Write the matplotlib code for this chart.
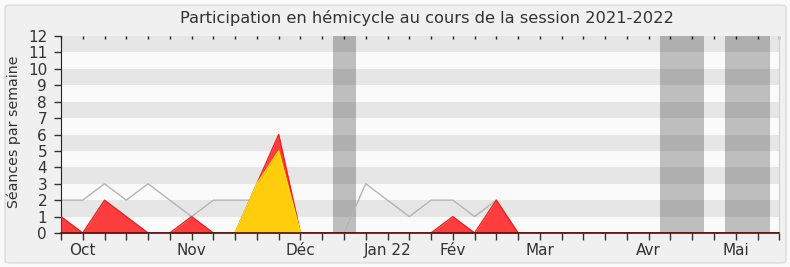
import matplotlib
matplotlib.use("Agg")
import matplotlib.pyplot as plt
from matplotlib.patches import FancyBboxPatch
import numpy as np

plt.rcParams["font.family"] = ["DejaVu Sans"]

# ---- data (weekly, week 0 .. 33) ----
weeks = list(range(34))
hemicycle_total = [2, 2, 3, 2, 3, 2, 1, 2, 2, 2, 1, 0, 0, 0, 3, 2, 1, 2, 2, 1, 2, 0,
                   0, 0, 0, 0, 0, 0, 0, 0, 0, 0, 0, 0]
presence = [1, 0, 2, 1, 0, 0, 1, 0, 0, 3, 6, 0, 0, 0, 0, 0, 0, 0, 1, 0, 2, 0,
            0, 0, 0, 0, 0, 0, 0, 0, 0, 0, 0, 0]
interventions = [0, 0, 0, 0, 0, 0, 0, 0, 0, 3, 5, 0, 0, 0, 0, 0, 0, 0, 0, 0, 0, 0,
                 0, 0, 0, 0, 0, 0, 0, 0, 0, 0, 0, 0]
vacation_start = [12.5, 27.5, 30.5]
vacation_end = [13.55, 29.55, 32.55]
month_labels = ["Oct", "Nov", "Déc", "Jan 22", "Fév", "Mar", "Avr", "Mai"]
month_weeks = [1, 6, 11, 15, 18, 22, 27, 31]
title = "Participation en hémicycle au cours de la session 2021-2022"
ylabel = "Séances par semaine"

W, H, DPI = 790, 267, 100
fig = plt.figure(figsize=(W / DPI, H / DPI), dpi=DPI)
fig.patch.set_facecolor("#fafafa")
box = FancyBboxPatch((5 / W, 4 / H), 781 / W, 258 / H,
                     boxstyle="round,pad=0,rounding_size=0.008",
                     transform=fig.transFigure, facecolor="#f0f0f0",
                     edgecolor="#dcdcdc", linewidth=1, zorder=-10)
fig.patches.append(box)

ax = fig.add_axes([61 / W, 1 - 233 / H, (779.3 - 61) / W, (233 - 36) / H])
ax.set_facecolor("#fafafa")
ax.set_xlim(0, 33)
ax.set_ylim(0, 12)

# horizontal stripes
for k in range(1, 12, 2):
    ax.axhspan(k, k + 1, color="#e6e6e6", zorder=0, lw=0)

# vacation bands
for s, e in zip(vacation_start, vacation_end):
    ax.axvspan(s, e, color="black", alpha=0.24, lw=0, zorder=1)

ax.plot(weeks, hemicycle_total, color="#b4b4b4", lw=1, zorder=2)
ax.fill_between(weeks, presence, 0, color="#ff3434", alpha=0.95, lw=0, zorder=3)
ax.plot(weeks, presence, color="#ff1a1a", lw=1, zorder=3)
ax.fill_between(weeks, interventions, 0, color="#ffd60a", alpha=0.95, lw=0, zorder=4)
ax.plot(weeks[8:12], interventions[8:12], color="#ffe000", lw=1, zorder=4)

# spines
ax.spines["top"].set_visible(False)
ax.spines["right"].set_color("#d0d0d0")
ax.spines["left"].set_color("#222222")
ax.spines["bottom"].set_color("#4a1010")
ax.spines["bottom"].set_zorder(10)
ax.spines["bottom"].set_linewidth(1.2)

# ticks
ax.set_yticks(range(0, 13))
ax.tick_params(axis="y", direction="out", length=5, width=1, colors="#333333",
               labelsize=11, pad=5)
ax.set_xticks(weeks, minor=True)
ax.set_xticks(month_weeks)
ax.set_xticklabels(month_labels)
ax.tick_params(axis="x", which="both", direction="out", length=5, width=1,
               colors="#333333", labelsize=11, pad=2, top=False)
# top ticks: tiny inward marks
secax = ax.secondary_xaxis("top")
secax.set_xticks(weeks)
secax.set_xticklabels([])
secax.tick_params(direction="in", length=2, width=1, colors="#222222")
secax.spines["top"].set_visible(False)

fig.text(14 / W, 1 - 132 / H, ylabel, rotation=90, ha="center", va="center",
         fontsize=10.2, color="#333333")
fig.text(427 / W, 1 - 18 / H, title, ha="center", va="center",
         fontsize=11.7, color="#333333")

fig.savefig("out.png", dpi=DPI, facecolor=fig.get_facecolor())
